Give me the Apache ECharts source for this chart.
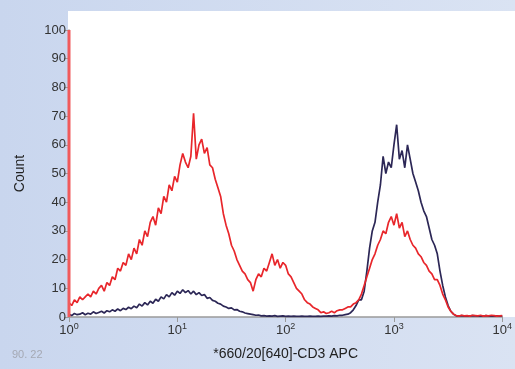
<!DOCTYPE html>
<html>
<head>
<meta charset="utf-8">
<script src="https://cdn.jsdelivr.net/npm/echarts@6/dist/echarts.min.js"></script>
<style>
html, body { margin: 0; padding: 0; }
#main { width: 515px; height: 369px; }
</style>
</head>
<body>
<div id="main"></div>
<script>
// histogram bins, 40 per decade starting at 10^0
var binStep = 0.025;

// red trace (counts per bin), first bin is the saturated edge
var redEdge = 100;
var redCounts = [
	5, 4, 6, 5, 7, 6, 7, 8, 7, 9,
	8, 10, 11, 9, 12, 11, 14, 13, 17, 16,
	19, 18, 22, 20, 24, 22, 27, 25, 30, 28,
	33, 35, 32, 38, 36, 42, 40, 46, 44, 49,
	47, 53, 57, 54, 52, 56, 71, 55, 60, 62,
	57, 59, 53, 52, 48, 45, 42, 36, 32, 29,
	25, 23, 20, 18, 16, 15, 13, 12, 9, 13,
	15, 14, 17, 16, 19, 22, 18, 20, 17, 19,
	18, 15, 14, 12, 10, 9, 8, 6, 5, 4.5,
	3.5, 3, 2.5, 1.5, 1.8, 1.2, 1.5, 2, 1.5, 2.2,
	2.5, 2.5, 3, 3.5, 3.5, 4.5, 5, 6, 8, 11,
	14, 17, 20, 22, 25, 27, 30, 29, 33, 35,
	32, 36, 31, 33, 28, 30, 27, 25, 24, 22,
	21, 19, 18, 16, 15, 13, 13, 11, 8, 6,
	3.5, 2, 1, 0.5, 0.3, 0.6, 0.4, 0.5, 0.3, 0.6,
	0.5, 0.4, 0.6, 0.3, 0.5, 0.4, 0.6, 0.5, 0.3, 0.4,
	0.5
];

// dark blue trace
var blueCounts = [
	1, 0.5, 1.2, 0.8, 1, 1.5, 0.8, 1.3, 1, 1.8,
	1.2, 1.6, 2, 1.4, 2.2, 1.8, 2.5, 2, 2.8, 2.2,
	3, 2.6, 3.4, 2.9, 3.8, 3.2, 4.5, 3.8, 5, 4.2,
	5.5, 4.8, 6.2, 5.5, 7, 6.3, 7.8, 7, 8.5, 7.6,
	9, 8.2, 9.5, 8.5, 9.2, 8, 9, 7.8, 8.5, 7.5,
	7.8, 6.5, 6.8, 5.8, 5.5, 4.8, 4.5, 3.8, 3.5, 3,
	3.2, 2.5, 2.6, 2, 1.8, 1.4, 1.2, 1, 0.8, 0.6,
	0.7, 0.4, 0.5, 0.3, 0.4, 0.3, 0.5, 0.2, 0.3, 0.4,
	0.2, 0.3, 0.2, 0.3, 0.2, 0.2, 0.3, 0.2, 0.2, 0.3,
	0.2, 0.2, 0.3, 0.2, 0.3, 0.3, 0.4, 0.3, 0.5, 0.4,
	0.6, 0.6, 0.8, 1, 1.5, 2.5, 4, 6, 6, 9,
	16, 24, 30, 33, 40, 46, 56, 50, 54, 52,
	60, 67, 55, 58, 52, 60, 55, 50, 47, 44,
	40, 37, 35, 31, 27, 25, 22, 16, 11, 7,
	4, 2, 1, 0.4, 0.3, 0.5, 0.3, 0.4, 0.3, 0.5,
	0.4, 0.3, 0.4, 0.3, 0.5, 0.3, 0.4, 0.3, 0.4, 0.3,
	0.4
];

var yTicks = [0, 10, 20, 30, 40, 50, 60, 70, 80, 90, 100];

function toPoints(counts) {
	var pts = [];
	for (var i = 0; i < counts.length; i++) {
		pts.push([Math.pow(10, i * binStep), counts[i]]);
	}
	return pts;
}

var edgeData = [[1, 0], [1, redEdge]];
var redData = toPoints(redCounts);
var blueData = toPoints(blueCounts);

var chart = echarts.init(document.getElementById('main'));
var option = {
	animation: false,
	backgroundColor: {
		type: 'linear', x: 0, y: 0, x2: 1, y2: 0,
		colorStops: [{ offset: 0, color: '#c9d6ee' }, { offset: 1, color: '#dae3f3' }]
	},
	graphic: [
		{ type: 'rect', z: -10, shape: { x: 68, y: 11, width: 447, height: 306 }, style: { fill: '#ffffff' } },
		{ type: 'text', left: 12, top: 349, style: { text: '90. 22', fill: '#a5a9b4', font: '11px "Liberation Sans", Arial' } }
	],
	grid: { left: 69, right: 10, top: 30, bottom: 52 },
	xAxis: {
		type: 'log',
		logBase: 10,
		min: 1,
		max: 10000,
		name: '*660/20[640]-CD3 APC',
		nameLocation: 'middle',
		nameGap: 30,
		nameTextStyle: { color: '#222', fontSize: 14, fontFamily: 'Liberation Sans' },
		axisLine: { lineStyle: { color: '#9a9a9a', width: 1.5 } },
		axisTick: { show: true, length: 5, lineStyle: { color: '#9a9a9a' } },
		splitLine: { show: false },
		axisLabel: {
			margin: 5,
			formatter: function (v) {
				return '{b|10}{s|' + Math.round(Math.log10(v)) + '}';
			},
			rich: {
				b: { fontSize: 13, color: '#333', fontFamily: 'Liberation Sans' },
				s: { fontSize: 9, color: '#333', fontFamily: 'Liberation Sans', verticalAlign: 'top', padding: [0, 0, 8, 0] }
			}
		}
	},
	yAxis: {
		type: 'value',
		min: yTicks[0],
		max: yTicks[yTicks.length - 1],
		interval: 10,
		name: 'Count',
		nameLocation: 'middle',
		nameGap: 42,
		nameTextStyle: { color: '#222', fontSize: 14, fontFamily: 'Liberation Sans' },
		axisLine: { show: true, lineStyle: { color: '#9a9a9a', width: 1.5 } },
		axisTick: { show: true, length: 5, lineStyle: { color: '#9a9a9a' } },
		splitLine: { show: false },
		axisLabel: { margin: 3, color: '#333', fontSize: 13, fontFamily: 'Liberation Sans' }
	},
	series: [
		{
			name: 'blue',
			type: 'line',
			data: blueData,
			showSymbol: false,
			lineStyle: { color: '#2c2756', width: 1.7 }
		},
		{
			name: 'red',
			type: 'line',
			data: redData,
			showSymbol: false,
			lineStyle: { color: '#e8262b', width: 1.7 }
		},
		{
			name: 'redEdge',
			type: 'line',
			data: edgeData,
			showSymbol: false,
			lineStyle: { color: '#f05a5c', width: 3 }
		}
	]
};
chart.setOption(option);
</script>
</body>
</html>
